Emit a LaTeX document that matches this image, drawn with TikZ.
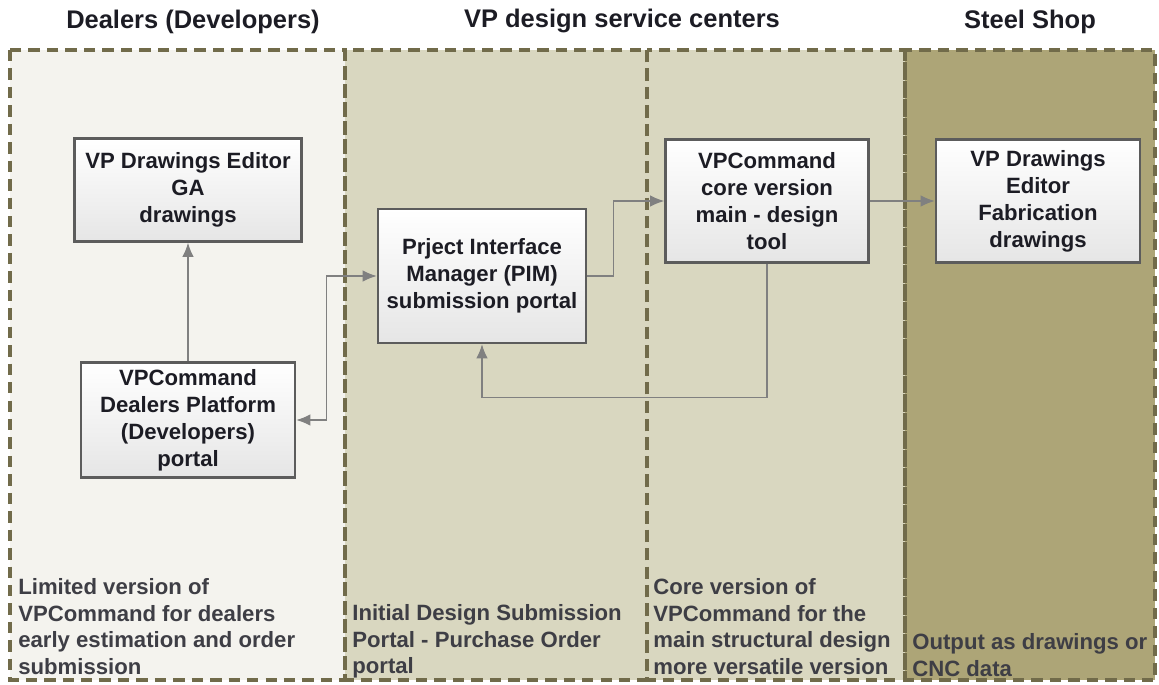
\documentclass[tikz,border=0pt]{standalone}
\usepackage{fontspec}
\setmainfont{Liberation Sans}
\usetikzlibrary{arrows.meta}

\definecolor{laneA}{HTML}{F4F3EE}
\definecolor{laneB}{HTML}{D9D7C0}
\definecolor{laneC}{HTML}{ADA577}
\definecolor{laneline}{HTML}{716B4A}
\definecolor{boxline}{HTML}{5C5C5C}
\definecolor{connline}{HTML}{808080}
\definecolor{ink}{HTML}{1C1C24}

\tikzset{
  lane/.style={draw=laneline, line width=1.9pt, dash pattern=on 6.5pt off 4pt},
  box/.style={draw=boxline, line width=1.4pt, top color=white, bottom color=black!10,
    align=center, text=ink, inner sep=2pt,
    font=\fontsize{12.6}{15.3}\selectfont\bfseries},
  tip/.style={Latex[length=8pt,width=6.5pt]},
  conn/.style={draw=connline, line width=0.8pt, -{Latex[length=8pt,width=6.5pt]}},
  heading/.style={text=ink, font=\fontsize{14.5}{17}\selectfont\bfseries},
  note/.style={anchor=north west, align=left, inner sep=0pt, text=ink!85,
    font=\fontsize{12.6}{15.2}\selectfont\bfseries}
}

\begin{document}
\begin{tikzpicture}[x=0.02cm,y=-0.02cm]
    \useasboundingbox (0,0) rectangle (1159,684);

    % swim lanes
    \fill[laneA] (10,50) rectangle (345,680);
    \fill[laneB] (345,50) rectangle (905,680);
    \fill[laneC] (905,50) rectangle (1155,680);
    \draw[lane] (10,50) rectangle (345,680);
    \draw[lane] (345,50) rectangle (647,680);
    \draw[lane] (647,50) rectangle (905,680);
    \draw[lane] (905,50) rectangle (1155,680);

    \node[heading] (hdealers) at (193,22) {Dealers (Developers)};
    \node[heading] (hcenters) at (622,21) {VP design service centers};
    \node[heading] (hshop) at (1030,22) {Steel Shop};

    % boxes
    \node[box, minimum width=4.54cm, minimum height=2.06cm] (ga) at (188,190)
        {VP Drawings Editor\\GA\\drawings};
    \node[box, minimum width=4.28cm, minimum height=2.3cm] (dealer) at (188,420)
        {VPCommand\\Dealers Platform\\(Developers)\\portal};
    \node[box, minimum width=4.16cm, minimum height=2.68cm] (pim) at (482,276)
        {Prject Interface\\Manager (PIM)\\submission portal};
    \node[box, minimum width=4.06cm, minimum height=2.46cm] (core) at (767,201)
        {VPCommand\\core version\\main - design\\tool};
    \node[box, minimum width=4.08cm, minimum height=2.46cm] (fab) at (1038,201)
        {VP Drawings\\Editor\\Fabrication\\drawings};

    % connectors
    \draw[conn] (dealer.north) -- (ga.south);
    \draw[conn, {Latex[length=8pt,width=6.5pt]}-{Latex[length=8pt,width=6.5pt]}]
        (dealer.east) -- ++(30,0) |- (pim.west);
    \draw[conn] (pim.east) -- ++(26,0) |- (core.west);
    \draw[conn] (core.east) -- (fab.west);
    \draw[conn] (core.south) -- ++(0,134) -| (pim.south);

    % lane notes
    \node[note] (nA) at (18,578) {Limited version of\\VPCommand for dealers\\early estimation and order\\submission};
    \node[note] (nB) at (352,604) {Initial Design Submission\\Portal - Purchase Order\\portal};
    \node[note] (nC) at (653,578) {Core version of\\VPCommand for the\\main structural design\\more versatile version};
    \node[note] (nD) at (912,633) {Output as drawings or\\CNC data};
\end{tikzpicture}
\end{document}
